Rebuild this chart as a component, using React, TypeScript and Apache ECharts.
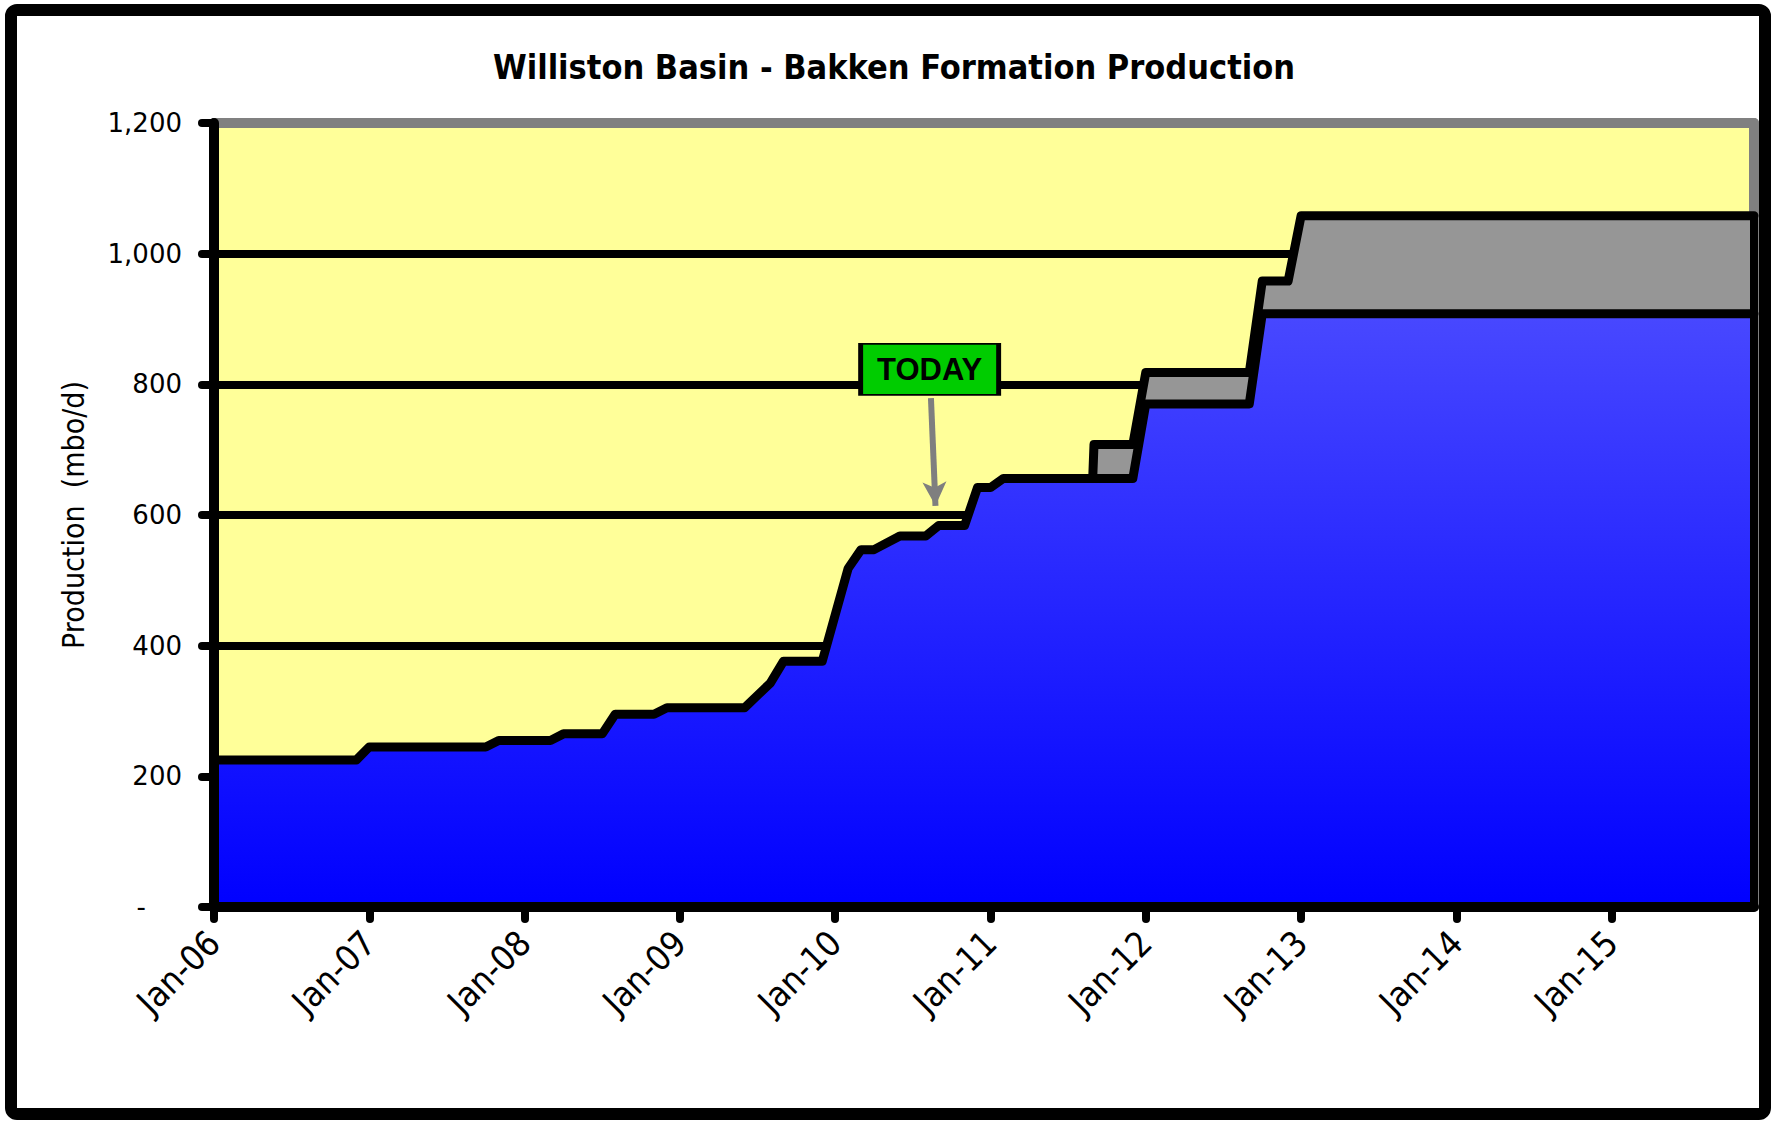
import React, { useEffect, useRef } from "react";
import * as echarts from "echarts";

// ---- Data (months since Jan-2006, production in mbo/d) ----
const baseMonths = [0, 11, 12, 21, 22, 26, 27, 30, 31, 34, 35, 41, 43, 44, 47, 49, 50, 51, 53, 55, 56, 58, 59, 60, 61, 71, 72, 80, 81, 119];
const baseValues = [225, 225, 245, 245, 255, 255, 265, 265, 295, 295, 305, 305, 343, 376, 376, 518, 547, 547, 568, 568, 584, 584, 642, 642, 656, 656, 770, 770, 908, 908];

const upsideMonths = [67.9, 68, 71, 72, 80, 81, 83, 84, 119];
const upsideValues = [656, 708, 708, 818, 818, 958, 958, 1058, 1058];

const xTickMonths = [0, 12, 24, 36, 48, 60, 72, 84, 96, 108];
const xTickLabels = ["Jan-06", "Jan-07", "Jan-08", "Jan-09", "Jan-10", "Jan-11", "Jan-12", "Jan-13", "Jan-14", "Jan-15"];

// TODAY annotation (data coordinates)
const todayBox = [55.3, 823];
const todayArrowFrom = [55.4, 779];
const todayArrowTo = [55.75, 614];

const COND = "'DejaVu Sans Condensed', 'DejaVu Sans', sans-serif";
const DEJAVU = "'DejaVu Sans', Verdana, sans-serif";

export default function App() {
  const ref = useRef<HTMLDivElement>(null);

  useEffect(() => {
    document.body.style.margin = "0";
    const chart = echarts.init(ref.current as HTMLDivElement, null, { renderer: "svg" });

    const lastMonth = baseMonths[baseMonths.length - 1];
    const lastUpside = upsideValues[upsideValues.length - 1];

    const option: any = {
      animation: false,
      backgroundColor: "#ffffff",
      title: {
        text: "Williston Basin - Bakken Formation Production",
        left: 894,
        top: 50,
        textAlign: "center",
        padding: 0,
        textStyle: { fontFamily: COND, fontWeight: "bold", fontSize: 34, color: "#000" },
      },
      grid: {
        left: 214,
        top: 123,
        width: 1540,
        height: 784,
        show: true,
        backgroundColor: "#FFFF99",
        borderWidth: 0,
      },
      xAxis: [
        {
          type: "value",
          min: 0,
          max: lastMonth,
          position: "bottom",
          z: 5,
          axisLine: { show: true, onZero: false, lineStyle: { color: "#000", width: 10, cap: "round" } },
          axisTick: {
            show: true,
            customValues: xTickMonths,
            length: 12,
            lineStyle: { color: "#000", width: 8, cap: "round" },
          },
          axisLabel: {
            customValues: xTickMonths,
            formatter: (v: number) => xTickLabels[xTickMonths.indexOf(v)] ?? "",
            rotate: 45,
            margin: 30,
            fontFamily: COND,
            fontSize: 35,
            color: "#000",
          },
          splitLine: { show: false },
        },
        {
          type: "value",
          min: 0,
          max: lastMonth,
          position: "top",
          axisLine: { show: true, onZero: false, lineStyle: { color: "#808080", width: 10, cap: "round" } },
          axisTick: { show: false },
          axisLabel: { show: false },
          splitLine: { show: false },
        },
      ],
      yAxis: [
        {
          type: "value",
          min: 0,
          max: 1200,
          interval: 200,
          position: "left",
          z: 5,
          name: "Production  (mbo/d)",
          nameLocation: "middle",
          nameGap: 126,
          nameTextStyle: { fontFamily: COND, fontSize: 30, color: "#000" },
          axisLine: { show: true, onZero: false, lineStyle: { color: "#000", width: 10, cap: "round" } },
          axisTick: { show: true, length: 12, lineStyle: { color: "#000", width: 8, cap: "round" } },
          axisLabel: {
            margin: 32,
            fontFamily: DEJAVU,
            fontSize: 26,
            color: "#000",
            formatter: (v: number) => (v === 0 ? "{dash|-}" : v.toLocaleString("en-US")),
            rich: { dash: { fontFamily: DEJAVU, fontSize: 26, color: "#000", padding: [0, 36, 0, 0] } },
          },
          splitLine: { show: false },
        },
        {
          type: "value",
          min: 0,
          max: 1200,
          interval: 200,
          position: "left",
          axisLine: { show: false, onZero: false },
          axisTick: { show: false },
          axisLabel: { show: false },
          splitLine: {
            show: true,
            showMinLine: false,
            showMaxLine: false,
            lineStyle: { color: "#000", width: 8 },
          },
        },
        {
          type: "value",
          min: 0,
          max: 1200,
          position: "right",
          axisLine: { show: true, onZero: false, lineStyle: { color: "#808080", width: 10, cap: "round" } },
          axisTick: { show: false },
          axisLabel: { show: false },
          splitLine: { show: false },
        },
      ],
      series: [
        {
          type: "line",
          name: "Upside",
          xAxisIndex: 0,
          yAxisIndex: 0,
          data: upsideMonths.map((m, i) => [m, upsideValues[i]]),
          symbol: "none",
          showSymbol: false,
          z: 2,
          lineStyle: { color: "#000", width: 9, join: "round", cap: "round" },
          areaStyle: { color: "#969696", opacity: 1 },
          markLine: {
            silent: true,
            symbol: ["none", "arrow"],
            symbolSize: [18, 24],
            label: { show: false },
            lineStyle: { color: "#7F7F7F", width: 6, type: "solid" },
            data: [[{ coord: todayArrowFrom }, { coord: todayArrowTo }]],
          },
          markPoint: {
            silent: true,
            data: [
              {
                coord: todayBox,
                symbol: "rect",
                symbolSize: [138, 51],
                itemStyle: { color: "#00CC00", borderColor: "#000", borderWidth: 3 },
                label: {
                  show: true,
                  position: "inside",
                  formatter: "TODAY",
                  fontFamily: "'Liberation Sans', Arial, sans-serif",
                  fontWeight: "bold",
                  fontSize: 31,
                  color: "#000",
                },
              },
            ],
          },
        },
        {
          type: "line",
          name: "Base",
          xAxisIndex: 0,
          yAxisIndex: 0,
          data: baseMonths.map((m, i) => [m, baseValues[i]]),
          symbol: "none",
          showSymbol: false,
          z: 3,
          lineStyle: { color: "#000", width: 9, join: "round", cap: "round" },
          areaStyle: {
            opacity: 1,
            color: new echarts.graphic.LinearGradient(0, 0, 0, 1, [
              { offset: 0, color: "#4848FF" },
              { offset: 1, color: "#0000FF" },
            ]),
          },
          markLine: {
            silent: true,
            symbol: ["none", "none"],
            label: { show: false },
            lineStyle: { color: "#000", width: 8, type: "solid" },
            data: [[{ coord: [lastMonth, 0] }, { coord: [lastMonth, lastUpside] }]],
          },
        },
      ],
      graphic: [
        {
          type: "rect",
          silent: true,
          z: 100,
          shape: { x: 11, y: 10, width: 1754, height: 1104, r: 6 },
          style: { fill: "none", stroke: "#000", lineWidth: 12 },
        },
      ],
    };

    chart.setOption(option);
    return () => chart.dispose();
  }, []);

  return <div ref={ref} style={{ width: 1771, height: 1123 }} />;
}
